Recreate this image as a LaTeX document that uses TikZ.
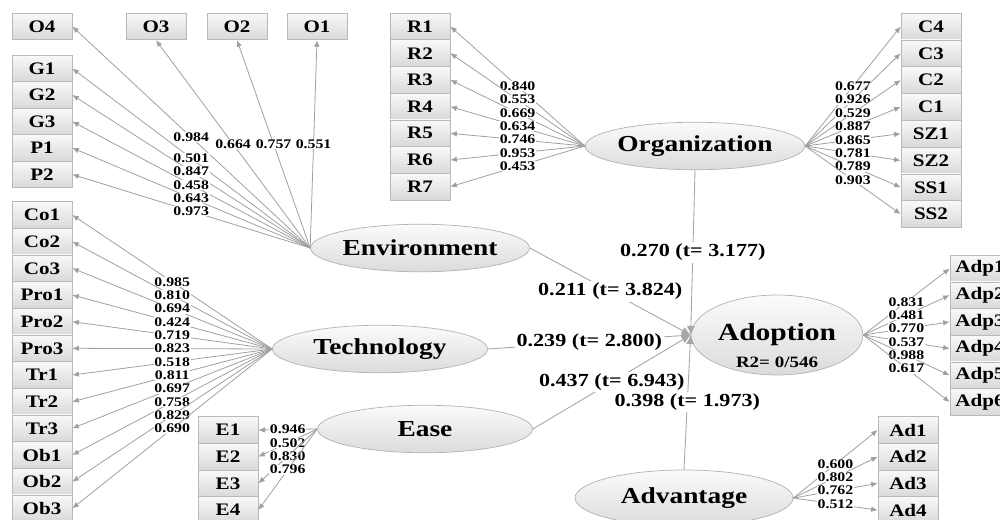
\documentclass[tikz,border=0pt]{standalone}
\usepackage{fontspec}
\setmainfont[FakeStretch=1.2]{Liberation Serif}
\usepackage{tikz}
\usetikzlibrary{shapes.geometric,arrows.meta,positioning}

\tikzset{
  latent/.style={ellipse, draw=gray!60, top color=gray!3, bottom color=gray!28,
    minimum width=4.3cm, minimum height=0.95cm, inner sep=0pt,
    font=\fontsize{13}{15}\selectfont\bfseries},
  ind/.style={rectangle, draw=gray!55, top color=gray!5, bottom color=gray!30,
    minimum width=1.2cm, minimum height=0.534cm, inner sep=0pt,
    font=\fontsize{10}{12}\selectfont\bfseries},
  load/.style={draw=gray!75, line width=0.45pt, -{Latex[length=1.3mm,width=1.1mm]}},
  coef/.style={fill=white, inner sep=0.3pt, font=\fontsize{7.5}{8}\selectfont\bfseries},
  struct/.style={draw=gray!70, line width=0.5pt, -{Latex[length=1.8mm,width=1.6mm]}},
  beta/.style={fill=white, inner sep=1pt, font=\fontsize{10.5}{12}\selectfont\bfseries}
}

\begin{document}
\begin{tikzpicture}[x=0.02cm, y=-0.02cm]
  \useasboundingbox (0,0) rectangle (1000,520);
  \clip (0,0) rectangle (1000,520);

  % Latent variables
  \node[latent] (env) at (420,248) {Environment};
  \node[latent] (org) at (695,146) {Organization};
  \node[latent] (tech) at (380,349) {Technology};
  \node[latent] (ease) at (425,429) {Ease};
  \node[latent, minimum width=3.44cm, minimum height=1.6cm, font=\fontsize{14}{16}\selectfont\bfseries] (adop) at (777,335) {Adoption};
  \node[font=\fontsize{9}{10}\selectfont\bfseries] (adopR) at (777,362) {R2= 0/546};
  \node[latent, minimum width=4.36cm, minimum height=1.12cm] (adv) at (684,498) {Advantage};

  % Environment indicators
  \node[ind] (O4) at (42,26.5) {O4};
  \node[ind] (O3) at (156,26.5) {O3};
  \node[ind] (O2) at (237,26.5) {O2};
  \node[ind] (O1) at (317,26.5) {O1};
  \node[ind] (G1) at (42,68.5) {G1};
  \node[ind] (G2) at (42,95) {G2};
  \node[ind] (G3) at (42,121.5) {G3};
  \node[ind] (P1) at (42,148) {P1};
  \node[ind] (P2) at (42,174.5) {P2};

  \draw[load] (env.west) -- node[coef] {0.984} (O4.east);
  \draw[load] (env.west) -- node[coef] {0.664} (O3.south);
  \draw[load] (env.west) -- node[coef] {0.757} (O2.south);
  \draw[load] (env.west) -- node[coef] {0.551} (O1.south);
  \draw[load] (env.west) -- node[coef] {0.501} (G1.east);
  \draw[load] (env.west) -- node[coef] {0.847} (G2.east);
  \draw[load] (env.west) -- node[coef] {0.458} (G3.east);
  \draw[load] (env.west) -- node[coef] {0.643} (P1.east);
  \draw[load] (env.west) -- node[coef] {0.973} (P2.east);

  % Technology indicators
  \node[ind] (Co1) at (42,215) {Co1};
  \node[ind] (Co2) at (42,241.7) {Co2};
  \node[ind] (Co3) at (42,268.3) {Co3};
  \node[ind] (Pro1) at (42,295) {Pro1};
  \node[ind] (Pro2) at (42,321.7) {Pro2};
  \node[ind] (Pro3) at (42,348.3) {Pro3};
  \node[ind] (Tr1) at (42,375) {Tr1};
  \node[ind] (Tr2) at (42,401.7) {Tr2};
  \node[ind] (Tr3) at (42,428.3) {Tr3};
  \node[ind] (Ob1) at (42,455) {Ob1};
  \node[ind] (Ob2) at (42,481.7) {Ob2};
  \node[ind] (Ob3) at (42,508.3) {Ob3};

  \draw[load] (tech.west) -- node[coef] {0.985} (Co1.east);
  \draw[load] (tech.west) -- node[coef] {0.810} (Co2.east);
  \draw[load] (tech.west) -- node[coef] {0.694} (Co3.east);
  \draw[load] (tech.west) -- node[coef] {0.424} (Pro1.east);
  \draw[load] (tech.west) -- node[coef] {0.719} (Pro2.east);
  \draw[load] (tech.west) -- node[coef] {0.823} (Pro3.east);
  \draw[load] (tech.west) -- node[coef] {0.518} (Tr1.east);
  \draw[load] (tech.west) -- node[coef] {0.811} (Tr2.east);
  \draw[load] (tech.west) -- node[coef] {0.697} (Tr3.east);
  \draw[load] (tech.west) -- node[coef] {0.758} (Ob1.east);
  \draw[load] (tech.west) -- node[coef] {0.829} (Ob2.east);
  \draw[load] (tech.west) -- node[coef] {0.690} (Ob3.east);

  % Organization indicators (left)
  \node[ind] (R1) at (420,26.5) {R1};
  \node[ind] (R2) at (420,53.2) {R2};
  \node[ind] (R3) at (420,79.9) {R3};
  \node[ind] (R4) at (420,106.6) {R4};
  \node[ind] (R5) at (420,133.3) {R5};
  \node[ind] (R6) at (420,160) {R6};
  \node[ind] (R7) at (420,186.7) {R7};

  \draw[load] (org.west) -- node[coef] {0.840} (R1.east);
  \draw[load] (org.west) -- node[coef] {0.553} (R2.east);
  \draw[load] (org.west) -- node[coef] {0.669} (R3.east);
  \draw[load] (org.west) -- node[coef] {0.634} (R4.east);
  \draw[load] (org.west) -- node[coef] {0.746} (R5.east);
  \draw[load] (org.west) -- node[coef] {0.953} (R6.east);
  \draw[load] (org.west) -- node[coef] {0.453} (R7.east);

  % Organization indicators (right)
  \node[ind] (C4) at (931,26.5) {C4};
  \node[ind] (C3) at (931,53.3) {C3};
  \node[ind] (C2) at (931,80.1) {C2};
  \node[ind] (C1) at (931,106.9) {C1};
  \node[ind] (SZ1) at (931,133.7) {SZ1};
  \node[ind] (SZ2) at (931,160.5) {SZ2};
  \node[ind] (SS1) at (931,187.3) {SS1};
  \node[ind] (SS2) at (931,214.1) {SS2};

  \draw[load] (org.east) -- node[coef] {0.677} (C4.west);
  \draw[load] (org.east) -- node[coef] {0.926} (C3.west);
  \draw[load] (org.east) -- node[coef] {0.529} (C2.west);
  \draw[load] (org.east) -- node[coef] {0.887} (C1.west);
  \draw[load] (org.east) -- node[coef] {0.865} (SZ1.west);
  \draw[load] (org.east) -- node[coef] {0.781} (SZ2.west);
  \draw[load] (org.east) -- node[coef] {0.789} (SS1.west);
  \draw[load] (org.east) -- node[coef] {0.903} (SS2.west);

  % Adoption indicators
  \node[ind] (Adp1) at (980,268.5) {Adp1};
  \node[ind] (Adp2) at (980,295.2) {Adp2};
  \node[ind] (Adp3) at (980,321.9) {Adp3};
  \node[ind] (Adp4) at (980,348.6) {Adp4};
  \node[ind] (Adp5) at (980,375.3) {Adp5};
  \node[ind] (Adp6) at (980,402) {Adp6};

  \draw[load] (adop.east) -- node[coef] {0.831} (Adp1.west);
  \draw[load] (adop.east) -- node[coef] {0.481} (Adp2.west);
  \draw[load] (adop.east) -- node[coef] {0.770} (Adp3.west);
  \draw[load] (adop.east) -- node[coef] {0.537} (Adp4.west);
  \draw[load] (adop.east) -- node[coef] {0.988} (Adp5.west);
  \draw[load] (adop.east) -- node[coef] {0.617} (Adp6.west);

  % Advantage indicators
  \node[ind] (Ad1) at (908,430) {Ad1};
  \node[ind] (Ad2) at (908,456.7) {Ad2};
  \node[ind] (Ad3) at (908,483.4) {Ad3};
  \node[ind] (Ad4) at (908,510.1) {Ad4};

  \draw[load] (adv.east) -- node[coef] {0.600} (Ad1.west);
  \draw[load] (adv.east) -- node[coef] {0.802} (Ad2.west);
  \draw[load] (adv.east) -- node[coef] {0.762} (Ad3.west);
  \draw[load] (adv.east) -- node[coef] {0.512} (Ad4.west);

  % Ease indicators
  \node[ind] (E1) at (228,430) {E1};
  \node[ind] (E2) at (228,456.7) {E2};
  \node[ind] (E3) at (228,483.4) {E3};
  \node[ind] (E4) at (228,510.1) {E4};

  \draw[load] (ease.west) -- node[coef] {0.946} (E1.east);
  \draw[load] (ease.west) -- node[coef] {0.502} (E2.east);
  \draw[load] (ease.west) -- node[coef] {0.830} (E3.east);
  \draw[load] (ease.west) -- node[coef] {0.796} (E4.east);

  % Structural paths
  \draw[struct] (org.south) -- node[beta] {0.270 (t= 3.177)} (adop.west);
  \draw[struct] (env.east) -- node[beta] {0.211 (t= 3.824)} (adop.west);
  \draw[struct] (tech.east) -- node[beta] {0.239 (t= 2.800)} (adop.west);
  \draw[struct] (ease.east) -- node[beta] {0.437 (t= 6.943)} (adop.west);
  \draw[struct] (adv.north) -- node[beta] {0.398 (t= 1.973)} (adop.west);
\end{tikzpicture}
\end{document}
